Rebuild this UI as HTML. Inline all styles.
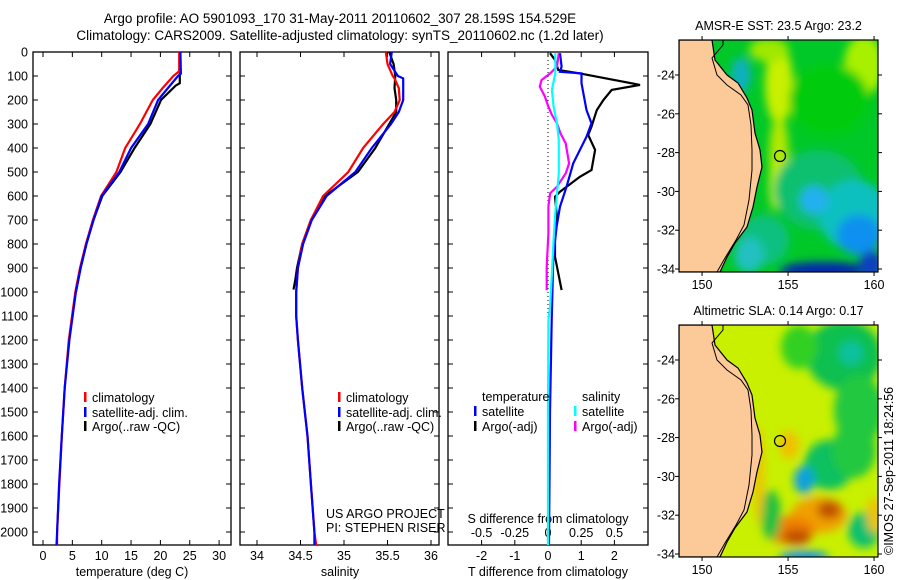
<!DOCTYPE html>
<html><head><meta charset="utf-8">
<style>
html,body{margin:0;padding:0;background:#fff;}
svg{display:block;font-family:"Liberation Sans",sans-serif;}
text{font-size:12.5px;fill:#000;}
</style></head>
<body>
<svg id="chart" width="900" height="580" viewBox="0 0 900 580" xmlns="http://www.w3.org/2000/svg">
<rect width="900" height="580" fill="#fff"/>
<text x="340" y="23" text-anchor="middle" style="font-size:13.5px">Argo profile: AO 5901093_170 31-May-2011 20110602_307 28.159S 154.529E</text>
<text x="340" y="40" text-anchor="middle" style="font-size:13.5px">Climatology: CARS2009. Satellite-adjusted climatology: synTS_20110602.nc (1.2d later)</text>
<g id="g"></g>
</svg>
<script>
// ---- data ----
const pTclim=[0,80,100,150,200,300,400,500,600,700,800,900,1000,1200,1400,1600,1800,2000,2054];
const Tclim=[23.2,23.2,22.2,20.4,18.7,16.5,14.0,12.5,9.9,8.5,7.3,6.3,5.5,4.4,3.7,3.2,2.8,2.4,2.4];
const pTsat=[0,90,100,150,200,300,400,500,600,700,800,900,1000,1200,1400,1600,1800,2000,2054];
const Tsat=[23.4,23.5,23.0,21.3,19.6,17.9,15.0,13.0,10.0,8.6,7.4,6.4,5.6,4.5,3.7,3.2,2.75,2.4,2.3];
const pTargo=[0,130,140,200,300,400,500,600,700,800,900,1000];
const Targo=[23.3,23.3,22.6,20.1,18.3,15.6,13.2,10.1,8.6,7.4,6.4,5.6];
const pS=[0,50,100,110,150,200,250,300,400,500,600,700,800,900,1000,1100,1200,1400,1600,1800,2000,2054];
const Sclim=[35.48,35.50,35.56,35.58,35.63,35.64,35.58,35.45,35.22,35.05,34.76,34.62,34.52,34.47,34.45,34.45,34.47,34.52,34.58,34.62,34.66,34.68];
const Ssat=[35.55,35.53,35.62,35.68,35.68,35.68,35.63,35.54,35.32,35.13,34.80,34.63,34.53,34.47,34.45,34.45,34.47,34.52,34.58,34.62,34.66,34.66];
const pSargo=[0,50,100,150,200,250,300,400,500,600,700,800,900,950,990];
const Sargo=[35.52,35.57,35.59,35.58,35.60,35.60,35.52,35.36,35.16,34.78,34.62,34.52,34.46,34.44,34.42];
const pdTsat=[5,61,82,89,130,242,297,353,464,561,644,728,853,1117,1500,2054];
const dTsat=[0.36,0.41,0.36,1.01,1.01,1.16,1.31,1.16,0.76,0.56,0.36,0.26,0.16,0.11,0.06,0.03];
const pdTargo=[5,33,75,89,137,158,200,242,311,346,408,492,520,582,603,672,783,853,922,992];
const dTargo=[0.06,0.21,0.31,0.96,2.77,1.92,1.67,1.47,1.31,1.21,1.42,1.31,0.96,0.36,0.21,0.26,0.21,0.21,0.31,0.41];
const pdSargo=[5,61,89,117,144,186,228,262,297,339,381,464,506,561,589,644,756,894,992];
const dSargo=[0.081,0.068,0.016,-0.049,-0.062,-0.023,0.003,0.029,0.068,0.094,0.133,0.159,0.133,0.068,0.016,0.003,0.003,-0.01,-0.01];
const pdSsat=[5,89,158,228,297,367,506,589,672,783,922,1061,1117,1500,2054];
const dSsat=[0.055,0.055,0.029,0.042,0.068,0.081,0.081,0.068,0.055,0.042,0.029,0.016,0.003,0.0,0.0];
const pTicks=[0,100,200,300,400,500,600,700,800,900,1000,1100,1200,1300,1400,1500,1600,1700,1800,1900,2000];
const tTicks=[0,5,10,15,20,25,30];
const sTicks=[34,34.5,35,35.5,36];
const sTickLabels=["34","34.5","35","35.5","36"];
const dTTicks=[-2,-1,0,1,2];
const dSLabels=["-0.5","-0.25","0","0.25","0.5"];
const latTicks=[-24,-26,-28,-30,-32,-34];
const lonTicks=[150,155,160];

const NS="http://www.w3.org/2000/svg";
const G=document.getElementById('g');
function el(tag,attrs,parent,txt){const e=document.createElementNS(NS,tag);for(const k in attrs)e.setAttribute(k,attrs[k]);if(txt!==undefined)e.textContent=txt;(parent||G).appendChild(e);return e;}

const TOP=52,BOT=545;
const yP=p=>TOP+p*0.24;
function panel(x0,x1,name){
  const r=el('rect',{x:x0,y:TOP,width:x1-x0,height:BOT-TOP,fill:'none',stroke:'#000','stroke-width':1.3});
  
  
  pTicks.forEach(p=>{el('line',{x1:x0,x2:x0+5,y1:yP(p),y2:yP(p),stroke:'#000'});el('line',{x1:x1-5,x2:x1,y1:yP(p),y2:yP(p),stroke:'#000'});});
}
function line(xs,ps,xf,color,name){
  const pts=xs.map((v,i)=>xf(v).toFixed(1)+','+yP(ps[i]).toFixed(1)).join(' ');
  const l=el('polyline',{points:pts,fill:'none',stroke:color,'stroke-width':2.2});
  
  
}
function xtick(x,label){el('line',{x1:x,x2:x,y1:BOT,y2:BOT-5,stroke:'#000'});el('line',{x1:x,x2:x,y1:TOP,y2:TOP+5,stroke:'#000'});
  const t=el('text',{x:x,y:560,'text-anchor':'middle'},G,label);}
function legend(x,y,color,label){
  if(color){const m=el('rect',{x:x,y:y-10,width:2.5,height:10,fill:color});}
  const t=el('text',{x:x+8,y:y},G,label);}

// Panel 1: temperature
const xT=t=>43+t*5.87;
panel(33,231,'temperature-panel');
pTicks.forEach(p=>{const t=el('text',{x:28,y:yP(p)+4.5,'text-anchor':'end'},G,String(p));});
tTicks.forEach(t=>xtick(xT(t),String(t)));
el('text',{x:132,y:576,'text-anchor':'middle',},G,'temperature (deg C)');
line(Targo,pTargo,xT,'#000','temp-argo-line');
line(Tclim,pTclim,xT,'#f00','temp-clim-line');
line(Tsat,pTsat,xT,'#00f','temp-sat-line');
legend(84,402,'#f00','climatology');legend(84,417,'#00f','satellite-adj. clim.');legend(84,431,'#000','Argo(..raw -QC)');

// Panel 2: salinity
const xS=s=>257+(s-34)*87;
panel(240,439,'salinity-panel');
sTicks.forEach((s,i)=>xtick(xS(s),sTickLabels[i]));
el('text',{x:340,y:576,'text-anchor':'middle',},G,'salinity');
line(Sargo,pSargo,xS,'#000','sal-argo-line');
line(Sclim,pS,xS,'#f00','sal-clim-line');
line(Ssat,pS,xS,'#00f','sal-sat-line');
legend(338,402,'#f00','climatology');legend(338,417,'#00f','satellite-adj. clim.');legend(338,431,'#000','Argo(..raw -QC)');
el('text',{x:326,y:518,},G,'US ARGO PROJECT');
el('text',{x:326,y:532,},G,'PI: STEPHEN RISER');

// Panel 3: differences
const xdT=d=>548+d*33.2;
const xdS=d=>548+d*132.8;
panel(448,648,'difference-panel');
el('line',{x1:548,x2:548,y1:TOP,y2:BOT,stroke:'#000','stroke-dasharray':'1,3',});
dTTicks.forEach(d=>xtick(xdT(d),String(d)));
dSLabels.forEach((l,i)=>{const t=el('text',{x:xdT(dTTicks[i]),y:537,'text-anchor':'middle'},G,l);});
el('text',{x:548,y:523,'text-anchor':'middle',},G,'S difference from climatology');
el('text',{x:548,y:576,'text-anchor':'middle',},G,'T difference from climatology');
line(dTargo,pdTargo,xdT,'#000','dT-argo-line');
line(dSargo,pdSargo,xdS,'#f0f','dS-argo-line');
line(dTsat,pdTsat,xdT,'#00f','dT-sat-line');
line(dSsat,pdSsat,xdS,'#0ff','dS-sat-line');
legend(474,401,null,'temperature');legend(474,416,'#00f','satellite');legend(474,431,'#000','Argo(-adj)');
legend(574,401,null,'salinity');legend(574,416,'#0ff','satellite');legend(574,431,'#f0f','Argo(-adj)');

// Maps
const coast=[[33,0],[36,20],[48,35],[59,43],[68,58],[73,70],[76,93],[81,110],[83,127],[78,147],[74,167],[68,187],[56,203],[48,217],[41,232]];
const iso=[[44,0],[44,5],[33,18],[38,35],[48,45],[62,55],[69,65],[72,85],[73,110],[73,130],[70,160],[65,185],[57,200],[46,218],[38,232]];
function map(top,name,title,bg,blobs){
  const L=679,W=199,H=232;
  const g=el('g',{});
  const cid='clip'+top;
  const cp=el('clipPath',{id:cid},g);el('rect',{x:L,y:top,width:W,height:H},cp);
  const fid='blur'+top;
  const f=el('filter',{id:fid,x:'-20%',y:'-20%',width:'140%',height:'140%'},g);el('feGaussianBlur',{stdDeviation:4.5},f);
  const inner=el('g',{'clip-path':'url(#'+cid+')'},g);
  el('rect',{x:L,y:top,width:W,height:H,fill:bg},inner);
  const bl=el('g',{filter:'url(#'+fid+')'},inner);
  blobs.forEach(b=>el('ellipse',{cx:L+b[0],cy:top+b[1],rx:b[2],ry:b[3],fill:b[4]},bl));
  el('polygon',{points:[[0,0],...coast,[0,232]].map(p=>(L+p[0])+','+(top+p[1])).join(' '),fill:'#fcc998',stroke:'#000','stroke-width':1.2},inner);
  el('polyline',{points:iso.map(p=>(L+p[0])+','+(top+p[1])).join(' '),fill:'none',stroke:'#000','stroke-width':1},inner);
  const c=el('circle',{cx:L+101,cy:top+116,r:5.5,fill:'none',stroke:'#000','stroke-width':1.2},g);
  el('rect',{x:L,y:top,width:W,height:H,fill:'none',stroke:'#000','stroke-width':1.2},g);
  latTicks.forEach(la=>{const y=top+35+(-24-la)*19.4;el('line',{x1:L-4,x2:L,y1:y,y2:y,stroke:'#000'},g);el('line',{x1:L+W,x2:L+W+4,y1:y,y2:y,stroke:'#000'},g);
    const t=el('text',{x:L-4,y:y+4.5,'text-anchor':'end'},g,String(la));});
  lonTicks.forEach(lo=>{const x=L+(lo-148.66)*17.2;el('line',{x1:x,x2:x,y1:top+H,y2:top+H+4,stroke:'#000'},g);el('line',{x1:x,x2:x,y1:top-4,y2:top,stroke:'#000'},g);
    const t=el('text',{x:x,y:top+H+17,'text-anchor':'middle'},g,String(lo));});
  const tt=el('text',{x:L+W/2,y:top-10,'text-anchor':'middle'},g,title);
}
map(40,'sst-map','AMSR-E SST: 23.5 Argo: 23.2','#00c828',[
 [100,45,14,40,'#c8f000'],[100,115,10,40,'#b0e800'],[96,145,6,25,'#c0f000'],[90,10,20,12,'#a0e800'],
 [185,25,20,30,'#a8f000'],[150,60,40,35,'#00cc10'],
 [140,150,45,40,'#10c070'],[175,175,35,35,'#10c0c0'],[135,160,14,14,'#20b0f0'],[180,195,22,20,'#1090f0'],
 [145,230,45,8,'#0020b0'],[192,225,12,14,'#1040c0'],[85,200,25,25,'#10c080'],[62,35,10,18,'#10b0c0'],[70,215,15,18,'#20c0c0']]);
map(325,'sla-map','Altimetric SLA: 0.14 Argo: 0.17','#c8f000',[
 [165,30,38,35,'#10c050'],[172,28,12,12,'#10c0a0'],[120,22,18,22,'#30d020'],[180,85,25,35,'#20c840'],
 [150,140,25,25,'#10c060'],[125,155,10,14,'#10a0e0'],[110,120,10,14,'#f0c000'],[175,125,22,28,'#20c840'],
 [140,190,28,18,'#f0a000'],[150,185,12,9,'#c05000'],[110,205,26,14,'#f08000'],[118,212,14,8,'#c05000'],
 [185,205,16,18,'#10c070'],[125,232,25,6,'#1090f0'],[92,190,10,25,'#20c040'],[195,190,7,18,'#f0c000'],[80,150,5,50,'#f0c000']]);
const im=el('text',{x:0,y:0,transform:'translate(893,555) rotate(-90)'},G,'©IMOS 27-Sep-2011 18:24:56');


</script>
</body></html>
